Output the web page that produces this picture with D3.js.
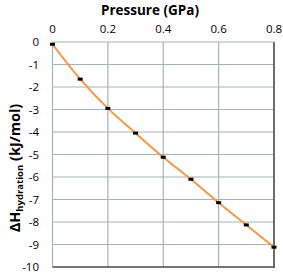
<!DOCTYPE html>
<html><head><meta charset="utf-8">
<script src="https://cdn.jsdelivr.net/npm/d3@7"></script>
<style>body{margin:0;background:#fff}svg{display:block}</style>
</head><body>
<svg id="c" width="283" height="274"></svg>
<script>
const pressure = [0, 0.1, 0.2, 0.3, 0.4, 0.5, 0.6, 0.7, 0.8];
const dH = [-0.1, -1.65, -2.95, -4.05, -5.12, -6.1, -7.14, -8.13, -9.12];
const xTicks = [0, 0.2, 0.4, 0.6, 0.8];
const yTicks = [0, -1, -2, -3, -4, -5, -6, -7, -8, -9, -10];

const svg = d3.select("#c");
const L = 52.5, R = 274, T = 42, B = 267;
const x = d3.scaleLinear().domain([0, 0.8]).range([L, R]);
const y = d3.scaleLinear().domain([0, -10]).range([T, B]);
const font = "'Open Sans', sans-serif";
const g = svg.append("g");

// gridlines
g.selectAll(".gx").data(xTicks).enter().append("line")
  .attr("x1", d => x(d)).attr("x2", d => x(d)).attr("y1", T).attr("y2", B)
  .attr("stroke", "#a4b6b4").attr("stroke-width", 1.2);
g.selectAll(".gy").data(yTicks).enter().append("line")
  .attr("x1", L).attr("x2", R).attr("y1", d => y(d)).attr("y2", d => y(d))
  .attr("stroke", "#a4b6b4").attr("stroke-width", 1.2);
// dark right & bottom
g.append("line").attr("x1", R).attr("x2", R).attr("y1", T).attr("y2", B + 1)
  .attr("stroke", "#555").attr("stroke-width", 1.6);
g.append("line").attr("x1", L).attr("x2", R + 1).attr("y1", B).attr("y2", B)
  .attr("stroke", "#555").attr("stroke-width", 1.6);

// tick labels
g.selectAll(".tx").data(xTicks).enter().append("text")
  .attr("x", d => x(d)).attr("y", 33).attr("text-anchor", "middle")
  .attr("font-family", font).attr("font-size", 11.5).attr("fill", "#000")
  .text(d => d === 0 ? "0" : d3.format(".1f")(d));
g.selectAll(".ty").data(yTicks).enter().append("text")
  .attr("x", 39).attr("y", d => y(d) + 4).attr("text-anchor", "end")
  .attr("font-family", font).attr("font-size", 11.5).attr("fill", "#000")
  .text(d => d === 0 ? "0" : "-" + Math.abs(d));

// line
const line = d3.line().x((d, i) => x(pressure[i])).y(d => y(d)).curve(d3.curveCatmullRom);
g.append("path").datum(dH).attr("d", line).attr("fill", "none")
  .attr("stroke", "#f79646").attr("stroke-width", 2);
// markers
g.selectAll(".m").data(dH).enter().append("rect")
  .attr("x", (d, i) => x(pressure[i]) - 2.5).attr("y", d => y(d) - 1.5)
  .attr("width", 5).attr("height", 3).attr("fill", "#000");

// titles
svg.append("text").attr("x", 150).attr("y", 15).attr("text-anchor", "middle")
  .attr("font-family", font).attr("font-weight", "bold").attr("font-size", 13.5)
  .text("Pressure (GPa)");
const yt = svg.append("text").attr("transform", "translate(20,168) rotate(-90)")
  .attr("text-anchor", "middle").attr("font-family", font)
  .attr("font-weight", "bold").attr("font-size", 14.5);
yt.append("tspan").text("ΔH");
yt.append("tspan").attr("font-size", 9.5).attr("dy", 3).text("hydration");
yt.append("tspan").attr("dy", -3).text(" (kJ/mol)");
</script>
</body></html>
